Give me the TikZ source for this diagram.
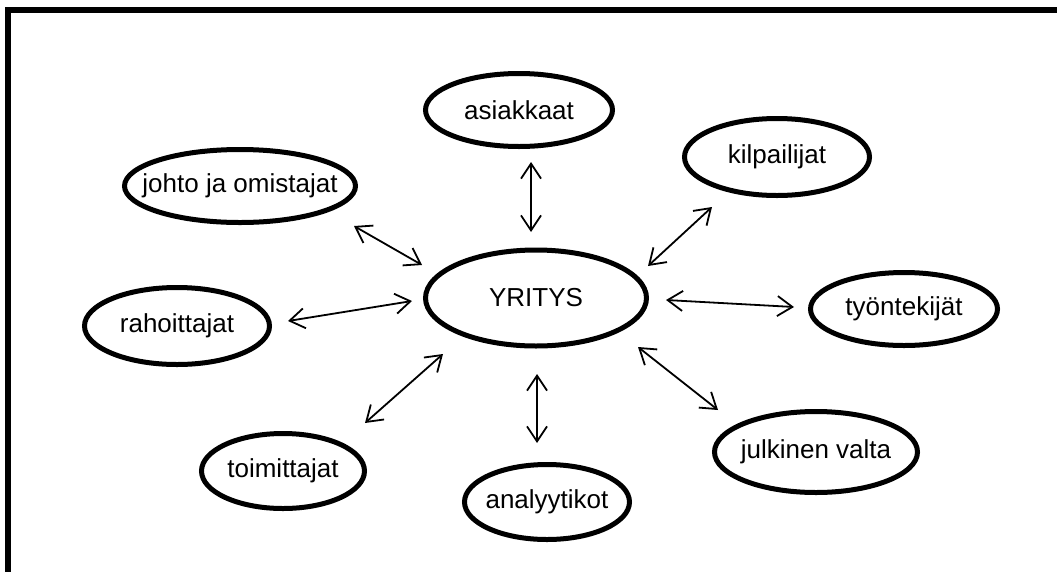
\documentclass[tikz,border=0pt]{standalone}
\usepackage{fontspec}
\setmainfont{Liberation Sans}
\usetikzlibrary{shapes.geometric,arrows.meta}
\begin{document}
\begin{tikzpicture}[x=1pt,y=-1pt,
  oval/.style={ellipse,draw=black,line width=5pt,inner sep=0pt,outer sep=0pt},
  every label/.style={font=\fontsize{26}{30}\selectfont,inner sep=0pt},
  arr/.style={line width=1.8pt,{Straight Barb[length=15pt,width=20pt,line width=1.8pt]}-{Straight Barb[length=15pt,width=20pt,line width=1.8pt]}}]
\useasboundingbox (0,0) rectangle (1057,571);
\fill[white] (0,0) rectangle (1057,571);
\draw[line width=6pt] (1065,10) -- (8,10) -- (8,580);
\node[oval,minimum width=187pt,minimum height=73pt,label={center:asiakkaat}] (asi) at (519,110) {};
\node[oval,minimum width=231pt,minimum height=73pt,label={center:johto ja omistajat}] (joh) at (240,186) {};
\node[oval,minimum width=185pt,minimum height=77pt,label={center:kilpailijat}] (kil) at (777,157) {};
\node[oval,minimum width=185pt,minimum height=77pt,label={center:rahoittajat}] (rah) at (177,326) {};
\node[oval,minimum width=221pt,minimum height=96pt,label={center:YRITYS}] (yri) at (536,298) {};
\node[oval,minimum width=187pt,minimum height=73pt,label={center:työntekijät}] (tyo) at (904,309) {};
\node[oval,minimum width=203pt,minimum height=81pt,label={center:julkinen valta}] (jul) at (816,452) {};
\node[oval,minimum width=163pt,minimum height=75pt,label={center:toimittajat}] (toi) at (283,471) {};
\node[oval,minimum width=165pt,minimum height=75pt,label={center:analyytikot}] (ana) at (547,502) {};
% arrow end points
\coordinate (a1) at (531,162); \coordinate (a2) at (531,232);
\coordinate (j1) at (354,226); \coordinate (j2) at (422,265);
\coordinate (k1) at (712,207); \coordinate (k2) at (648,266);
\coordinate (r1) at (288,321); \coordinate (r2) at (412,301);
\coordinate (t1) at (794,307); \coordinate (t2) at (666,300);
\coordinate (m1) at (365,423); \coordinate (m2) at (443,354);
\coordinate (n1) at (537,443); \coordinate (n2) at (537,374);
\coordinate (v1) at (718,410); \coordinate (v2) at (638,347);
\draw[arr] (a1) -- (a2);
\draw[arr] (j1) -- (j2);
\draw[arr] (k1) -- (k2);
\draw[arr] (r1) -- (r2);
\draw[arr] (t1) -- (t2);
\draw[arr] (m1) -- (m2);
\draw[arr] (n1) -- (n2);
\draw[arr] (v1) -- (v2);
\end{tikzpicture}
\end{document}
